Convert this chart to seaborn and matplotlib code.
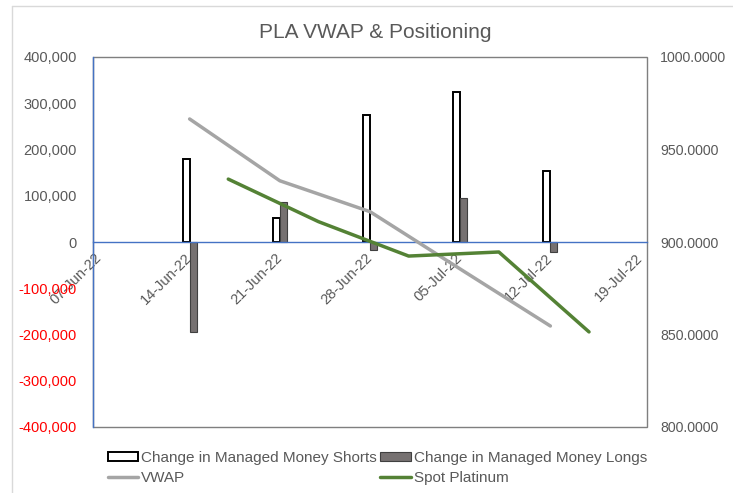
import matplotlib

matplotlib.use("Agg")
import matplotlib.dates as mdates
import matplotlib.pyplot as plt
import numpy as np
import pandas as pd
import seaborn as sns
from matplotlib.lines import Line2D
from matplotlib.patches import Patch, Rectangle
from matplotlib.ticker import FuncFormatter, MultipleLocator

sns.set_theme(style="white")
plt.rcParams["font.family"] = ["Liberation Sans", "DejaVu Sans"]

# positioning data (weekly COT dates)
cot_dates = ["2022-06-14", "2022-06-21", "2022-06-28", "2022-07-05", "2022-07-12"]
mm_shorts = [178800, 52500, 274600, 323700, 154200]
mm_longs = [-195000, 87100, -17300, 94500, -22300]
vwap = [966.5, 933.1, 916.4, 885.4, 854.6]

# spot price (Fridays)
spot_dates = ["2022-06-17", "2022-06-24", "2022-07-01", "2022-07-08", "2022-07-15"]
spot_platinum = [934.0, 911.0, 892.4, 894.6, 851.4]

tick_dates = ["2022-06-07", "2022-06-14", "2022-06-21", "2022-06-28",
              "2022-07-05", "2022-07-12", "2022-07-19"]

GREY_TXT = "#595959"
BLUE = "#4472C4"
FS = 10.5

cot_x = mdates.date2num(pd.to_datetime(cot_dates))
spot_x = mdates.date2num(pd.to_datetime(spot_dates))
tick_x = mdates.date2num(pd.to_datetime(tick_dates))

bar_w = 0.55  # days

fig = plt.figure(figsize=(7.33, 4.93), dpi=100)
ax = fig.add_axes([93 / 733, 1 - 427 / 493, 554 / 733, 370 / 493])

sns.barplot(x=cot_x - bar_w / 2, y=mm_shorts, native_scale=True, width=bar_w / 7,
            color="white", edgecolor="black", linewidth=1.4, saturation=1,
            errorbar=None, ax=ax)
sns.barplot(x=cot_x + bar_w / 2, y=mm_longs, native_scale=True, width=bar_w / 7,
            color="#767171", edgecolor="#404040", linewidth=0.8, saturation=1,
            errorbar=None, ax=ax)

ax.set_ylim(-400000, 400000)
ax.set_xlim(tick_x[0] - 0.5, tick_x[-1] + 0.5)
ax.yaxis.set_major_locator(MultipleLocator(100000))
ax.yaxis.set_major_formatter(FuncFormatter(lambda v, p: f"{v:,.0f}"))
ax.set_xticks(tick_x)
ax.xaxis.set_major_formatter(mdates.DateFormatter("%d-%b-%y"))
ax.set_xlabel("")
ax.set_ylabel("")

# axis crosses at zero, blue like Excel
ax.spines["bottom"].set_position(("data", 0))
ax.spines["bottom"].set_color(BLUE)
ax.spines["bottom"].set_linewidth(1.0)
ax.spines["left"].set_color(BLUE)
ax.spines["left"].set_linewidth(1.0)
ax.spines["top"].set_visible(False)
ax.spines["right"].set_visible(False)
ax.add_patch(Rectangle((0, 0), 1, 1, transform=ax.transAxes, fill=False,
                       edgecolor="#7f7f7f", linewidth=1.0, zorder=0.5,
                       clip_on=False))

ax.tick_params(axis="y", length=0, pad=11.5, labelsize=FS, labelcolor=GREY_TXT)
ax.tick_params(axis="x", length=0, pad=10, labelsize=FS, labelcolor=GREY_TXT)
for lbl in ax.get_xticklabels():
    lbl.set_rotation(45)
    lbl.set_ha("right")
    lbl.set_va("center")
    lbl.set_rotation_mode("anchor")
for val, lbl in zip(ax.get_yticks(), ax.get_yticklabels()):
    if val < 0:
        lbl.set_color("red")

ax2 = ax.twinx()
sns.lineplot(x=cot_x, y=vwap, color="#A5A5A5", linewidth=2.5, ax=ax2)
sns.lineplot(x=spot_x, y=spot_platinum, color="#548235", linewidth=2.5, ax=ax2)
ax2.set_ylim(800, 1000)
ax2.yaxis.set_major_locator(MultipleLocator(50))
ax2.yaxis.set_major_formatter(FuncFormatter(lambda v, p: f"{v:.4f}"))
ax2.tick_params(axis="y", length=0, pad=9.5, labelsize=10.2, labelcolor=GREY_TXT)
for s in ax2.spines.values():
    s.set_visible(False)
ax2.set_xlim(ax.get_xlim())

fig.suptitle("PLA VWAP & Positioning", x=375 / 733, y=1 - 32 / 493, va="center",
             fontsize=15, color=GREY_TXT)

handles = [
    Patch(facecolor="white", edgecolor="black", linewidth=1.4),
    Line2D([], [], color="#A5A5A5", linewidth=2.5),
    Patch(facecolor="#767171", edgecolor="#404040", linewidth=0.8),
    Line2D([], [], color="#548235", linewidth=2.5),
]
labels = ["Change in Managed Money Shorts", "VWAP",
          "Change in Managed Money Longs", "Spot Platinum"]
fig.legend(handles, labels, ncol=2, loc="center left",
           bbox_to_anchor=(94 / 733, 1 - 468 / 493), frameon=False,
           fontsize=11, labelcolor=GREY_TXT, handlelength=2.0, handleheight=0.55,
           handletextpad=0.2, columnspacing=0.2, labelspacing=0.4)

# outer chart frame
fig.add_artist(Line2D([12 / 733, 12 / 733], [0, 1 - 6 / 493], color="#d9d9d9",
                      linewidth=1.0, transform=fig.transFigure))
fig.add_artist(Line2D([12 / 733, 1], [1 - 6 / 493, 1 - 6 / 493], color="#d9d9d9",
                      linewidth=1.0, transform=fig.transFigure))

fig.savefig("out.png", dpi=100)
